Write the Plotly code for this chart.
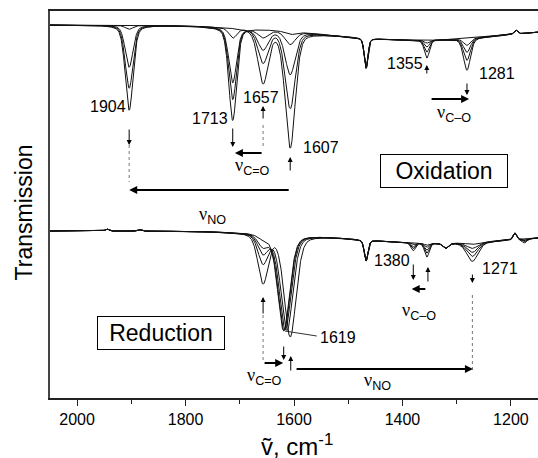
import numpy as np
import plotly.graph_objects as go

# ---------------------------------------------------------------
# IR spectroelectrochemistry: two series of five spectra each
# (oxidation on top, reduction below), transmission in a.u.
# ---------------------------------------------------------------
X_RANGE = [2050, 1150]          # cm-1, reversed axis
Y_RANGE = [0, 387]              # a.u.
MAJOR_TICKS = [2000, 1800, 1600, 1400, 1200]
MINOR_TICKS = [1900, 1700, 1500, 1300]

# ----- oxidation series -----
OX_BASELINE = 373
OX_BROAD = (1370, 180, 15)               # centre, sigma, depth of slow baseline drift
OX_CENTRES = [1904, 1713, 1657, 1607, 1467, 1355, 1281, 1191]
OX_FWHM = [17, 17, 22, 22, 8, 11, 15, 8]
OX_1904 = [0, 4, 42, 63, 85]
OX_1713 = [0, 10, 55, 72, 93]
OX_1657 = [53, 33, 20, 8, 0]
OX_1607 = [116, 77, 43, 13, 3]
OX_1467 = [30, 30, 30, 30, 30]
OX_1355 = [18, 12, 7, 3, 0]
OX_1281 = [0, 7, 14, 22, 32]
OX_1191 = [-4, -4, -4, -4, -4]

# ----- reduction series -----
RED_BASELINE = 167
RED_BROAD = (1330, 170, 12)
RED_NO_CENTRES = [1607, 1613, 1616, 1618, 1619]
RED_NO_DEPTH = [102, 96, 95, 96, 97]
RED_NO_FWHM = 26
RED_CENTRES = [1945, 1884, 1657, 1467, 1380, 1355, 1320, 1271, 1193, 1175]
RED_FWHM = [8, 8, 22, 8, 10, 10, 12, 24, 7, 10]
RED_1945 = [-2, -2, -2, -2, -2]
RED_1884 = [-1.5, -1.5, -1.5, -1.5, -1.5]
RED_1657 = [49, 29, 19, 12, 4]
RED_1467 = [21, 21, 21, 21, 21]
RED_1380 = [0, 2, 4, 6, 8]
RED_1355 = [14, 10, 7, 4, 2]
RED_1320 = [5, 5, 5, 5, 5]
RED_1271 = [2, 6, 10, 14, 19]
RED_1193 = [-7, -7, -7, -7, -7]
RED_1175 = [0, 1, 2, 3, 4]

wn = np.linspace(X_RANGE[0], X_RANGE[1], 1801)


def band(centre, fwhm, eta=0.35):
    """Pseudo-Voigt line shape normalised to 1 at the centre."""
    hw = fwhm / 2.0
    lor = 1.0 / (1.0 + ((wn - centre) / hw) ** 2)
    gau = np.exp(-np.log(2) * ((wn - centre) / hw) ** 2)
    return eta * lor + (1 - eta) * gau


def broad(params):
    c, s, d = params
    return d * np.exp(-((wn - c) ** 2) / (2 * s ** 2))


def spectrum(base, broad_params, centres, fwhms, depth_lists, k, extra=None):
    y = base - broad(broad_params)
    for c, w, d in zip(centres, fwhms, depth_lists):
        y = y - d[k] * band(c, w)
    if extra is not None:
        y = y - extra
    return y


fig = go.Figure()
LINE = dict(color="#111111", width=1.0)

ox_depths = [OX_1904, OX_1713, OX_1657, OX_1607, OX_1467, OX_1355, OX_1281, OX_1191]
red_depths = [RED_1945, RED_1884, RED_1657, RED_1467, RED_1380, RED_1355,
              RED_1320, RED_1271, RED_1193, RED_1175]

for k in range(5):
    y = spectrum(OX_BASELINE, OX_BROAD, OX_CENTRES, OX_FWHM, ox_depths, k)
    fig.add_trace(go.Scatter(x=wn, y=y, mode="lines", line=LINE,
                             hoverinfo="skip", showlegend=False))

for k in range(5):
    no_band = RED_NO_DEPTH[k] * band(RED_NO_CENTRES[k], RED_NO_FWHM)
    y = spectrum(RED_BASELINE, RED_BROAD, RED_CENTRES, RED_FWHM, red_depths, k,
                 extra=no_band)
    fig.add_trace(go.Scatter(x=wn, y=y, mode="lines", line=LINE,
                             hoverinfo="skip", showlegend=False))

FONT = "Arial, Liberation Sans, sans-serif"
NU = '<span style="font-family:Liberation Serif, serif">ν</span>'
annotations = []


def label(text, x, y, xanchor="center", size=16):
    annotations.append(dict(text=text, x=x, y=y, xref="x", yref="y",
                            xanchor=xanchor, yanchor="middle", showarrow=False,
                            font=dict(family=FONT, size=size, color="black")))


def arrow(x0, y0, x1, y1, width=1.0, head=1.0):
    annotations.append(dict(x=x1, y=y1, ax=x0, ay=y0, xref="x", yref="y",
                            axref="x", ayref="y", text="", showarrow=True,
                            arrowhead=2, arrowsize=head, arrowwidth=width,
                            arrowcolor="black", standoff=0, startstandoff=0))


def dotted(x, y0, y1):
    fig.add_trace(go.Scatter(x=[x, x], y=[y0, y1], mode="lines",
                             line=dict(color="#777", width=1, dash="dot"),
                             hoverinfo="skip", showlegend=False))


# --- oxidation labels ---
label(str(OX_CENTRES[0]), 1906, 292, "right")
label(str(OX_CENTRES[1]), 1718, 280, "right")
label(str(OX_CENTRES[2]), 1661, 301, "center")
label(str(OX_CENTRES[3]), 1587, 251, "left")
label(str(OX_CENTRES[5]), 1359, 335, "right")
label(str(OX_CENTRES[6]), 1263, 325, "left")

arrow(1904, 270, 1904, 253)
dotted(1904, 253, 216)
arrow(1607, 208, 1904, 208, width=2, head=0.8)
arrow(1713, 271, 1713, 251)
arrow(1657, 278, 1657, 292)
dotted(1657, 273, 251)
arrow(1657, 245, 1709, 245, width=2, head=0.8)
arrow(1607, 226, 1607, 241)
arrow(1355, 323, 1355, 333)
arrow(1281, 316, 1281, 303)
arrow(1349, 299, 1277, 299, width=2, head=0.8)

label(NU + "<sub>C=O</sub>", 1713, 232, "left", 18)
label(NU + "<sub>NO</sub>", 1779, 183, "left", 18)
label(NU + "<sub>C\u2013O</sub>", 1340, 285, "left", 18)

# --- reduction labels ---
label(str(RED_CENTRES[4]), 1383, 138, "right")
label(str(RED_CENTRES[7]), 1257, 130, "left")
label(str(RED_NO_CENTRES[-1]), 1556, 61, "left")
fig.add_trace(go.Scatter(x=[1617, 1558], y=[67, 62], mode="lines",
                         line=dict(color="black", width=0.8),
                         hoverinfo="skip", showlegend=False))

arrow(1657, 83, 1657, 101)
dotted(1657, 83, 35)
arrow(1657, 35, 1620, 35, width=2, head=0.8)
arrow(1619, 53, 1619, 38)
arrow(1606, 26, 1606, 42)
arrow(1598, 29, 1270, 29, width=2, head=0.8)
dotted(1271, 103, 25)
arrow(1271, 125, 1271, 115)
arrow(1380, 135, 1380, 118)
arrow(1353, 115, 1353, 131)
arrow(1355, 109, 1383, 109, width=2, head=0.8)

label(NU + "<sub>C=O</sub>", 1691, 22, "left", 18)
label(NU + "<sub>C\u2013O</sub>", 1405, 87, "left", 18)
label(NU + "<sub>NO</sub>", 1475, 17, "left", 18)

# --- boxed titles ---
for text, x, y in [("Oxidation", 1324, 227), ("Reduction", 1845, 65)]:
    annotations.append(dict(text=text, x=x, y=y, xref="x", yref="y",
                            showarrow=False, width=122, height=28,
                            bordercolor="black", borderwidth=1, borderpad=2,
                            font=dict(family=FONT, size=23, color="black")))

# --- axis titles ---
annotations.append(dict(text="\u1e7d, cm<sup>-1</sup>", x=0.506, y=-0.078,
                        xref="paper", yref="paper", xanchor="center",
                        yanchor="top", showarrow=False,
                        font=dict(family=FONT, size=24, color="black")))
annotations.append(dict(text="Transmission", x=-0.053, y=0.48,
                        xref="paper", yref="paper", xanchor="center",
                        yanchor="middle", textangle=-90, showarrow=False,
                        font=dict(family=FONT, size=23, color="black")))

fig.update_layout(
    width=538, height=458,
    margin=dict(l=50, r=0, t=11, b=60),
    plot_bgcolor="white", paper_bgcolor="white",
    annotations=annotations,
    xaxis=dict(range=X_RANGE, showgrid=False, zeroline=False,
               showline=True, linecolor="#222", linewidth=2, mirror=True,
               tickmode="array", tickvals=MAJOR_TICKS,
               ticktext=[str(v) for v in MAJOR_TICKS],
               ticks="outside", ticklen=6, tickwidth=1, tickcolor="#222",
               tickfont=dict(family=FONT, size=16, color="black"),
               minor=dict(tickmode="array", tickvals=MINOR_TICKS,
                          ticks="outside", ticklen=4, tickwidth=1,
                          tickcolor="#222", showgrid=False)),
    yaxis=dict(range=Y_RANGE, showgrid=False, zeroline=False,
               showline=True, linecolor="#444", linewidth=1.5,
               showticklabels=False, ticks=""),
)

fig.write_html("out.html")
